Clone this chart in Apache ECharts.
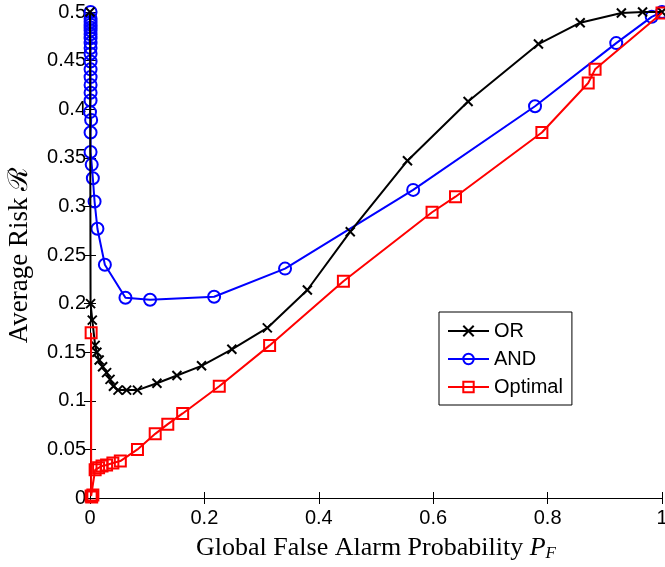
<!DOCTYPE html>
<html>
<head>
<meta charset="utf-8">
<script src="https://cdn.jsdelivr.net/npm/echarts@6/dist/echarts.min.js"></script>
<style>
  html, body { margin: 0; padding: 0; background: #fff; }
  #chart { width: 665px; height: 567px; }
</style>
</head>
<body>
<div id="chart"></div>
<script>
// Global false alarm probability (x) and average risk (y) for each fusion rule
const orPF = [0.000, 0.001, 0.004, 0.009, 0.012, 0.016, 0.022, 0.029, 0.035, 0.041, 0.049, 0.064, 0.083,
  0.117, 0.152, 0.195, 0.248, 0.310, 0.380, 0.455, 0.555, 0.661, 0.784, 0.857, 0.929, 0.966, 1.000];
const orRisk = [0.500, 0.200, 0.183, 0.157, 0.150, 0.142, 0.135, 0.129, 0.122, 0.115, 0.111, 0.111, 0.111,
  0.118, 0.126, 0.136, 0.153, 0.175, 0.214, 0.274, 0.347, 0.408, 0.467, 0.489, 0.499, 0.500, 0.500];

const andPF = [0.001, 0.001, 0.001, 0.001, 0.001, 0.001, 0.001, 0.001, 0.001, 0.001, 0.001, 0.001, 0.001,
  0.001, 0.001, 0.001, 0.001, 0.000, 0.002, 0.001, 0.001, 0.003, 0.005, 0.008, 0.013, 0.026, 0.062,
  0.105, 0.217, 0.341, 0.565, 0.778, 0.920, 0.982, 1.000];
const andRisk = [0.500, 0.493, 0.490, 0.487, 0.484, 0.481, 0.477, 0.473, 0.468, 0.463, 0.457, 0.449, 0.441,
  0.433, 0.425, 0.417, 0.409, 0.397, 0.389, 0.376, 0.356, 0.343, 0.329, 0.305, 0.277, 0.240, 0.206,
  0.204, 0.207, 0.236, 0.317, 0.403, 0.468, 0.495, 0.500];

const optPF = [0.002, 0.002, 0.003, 0.005, 0.009, 0.015, 0.021, 0.029, 0.040, 0.053, 0.083, 0.114, 0.136,
  0.162, 0.226, 0.314, 0.443, 0.598, 0.639, 0.790, 0.871, 0.883, 1.000];
const optRisk = [0.170, 0.002, 0.001, 0.003, 0.029, 0.031, 0.033, 0.034, 0.036, 0.038, 0.050, 0.066, 0.076,
  0.087, 0.115, 0.157, 0.223, 0.294, 0.310, 0.376, 0.427, 0.441, 0.499];

const xTicks = { min: 0, max: 1, interval: 0.2 };
const yTicks = { min: 0, max: 0.5, interval: 0.05 };

const pairs = (xs, ys) => xs.map((x, i) => [x, ys[i]]);

const sansFont = "'Liberation Sans', Arial, sans-serif";
const serifFont = "'Liberation Serif', 'DejaVu Serif', serif";

const tickLabelFmt = v => {
  const r = Math.round(v * 100) / 100;
  return r === 0 ? '0' : r === 1 ? '1' : String(r);
};

const baseAxis = {
  axisLine: { show: true, lineStyle: { color: '#000', width: 1 } },
  axisTick: { show: true, inside: true, length: 6, lineStyle: { color: '#000', width: 1 } },
  splitLine: { show: false },
};

const chart = echarts.init(document.getElementById('chart'), null, { renderer: 'canvas' });

chart.setOption({
  backgroundColor: '#fff',
  animation: false,
  grid: { left: 90, right: 3, top: 12, bottom: 69, containLabel: false, outerBoundsMode: 'none' },
  xAxis: [
    Object.assign({}, baseAxis, {
      type: 'value', position: 'bottom',
      min: xTicks.min, max: xTicks.max, interval: xTicks.interval,
      axisLabel: { color: '#000', fontFamily: sansFont, fontSize: 20, margin: 10, formatter: tickLabelFmt },
      name: '{n|Global False Alarm Probability }{i|P}{s|F}',
      nameLocation: 'middle', nameGap: 36,
      nameTextStyle: {
        color: '#000',
        rich: {
          n: { fontFamily: serifFont, fontSize: 26, color: '#000' },
          i: { fontFamily: serifFont, fontSize: 26, fontStyle: 'italic', color: '#000' },
          s: { fontFamily: serifFont, fontSize: 17, fontStyle: 'italic', color: '#000', padding: [11, 0, 0, 0] }
        }
      }
    }),
    Object.assign({}, baseAxis, {
      type: 'value', position: 'top',
      min: xTicks.min, max: xTicks.max, interval: xTicks.interval,
      axisLabel: { show: false }
    })
  ],
  yAxis: [
    Object.assign({}, baseAxis, {
      type: 'value', position: 'left',
      min: yTicks.min, max: yTicks.max, interval: yTicks.interval,
      axisLabel: { color: '#000', fontFamily: sansFont, fontSize: 20, margin: 4, formatter: tickLabelFmt },
      name: 'Average Risk \u211B',
      nameLocation: 'middle', nameRotate: 90, nameGap: 57,
      nameTextStyle: { color: '#000', fontFamily: serifFont, fontSize: 27 }
    }),
    Object.assign({}, baseAxis, {
      type: 'value', position: 'right',
      min: yTicks.min, max: yTicks.max, interval: yTicks.interval,
      axisLabel: { show: false }
    })
  ],
  legend: {
    orient: 'vertical',
    left: 439, top: 312,
    padding: [9, 9, 8, 8],
    itemGap: 8,
    itemWidth: 41, itemHeight: 13,
    backgroundColor: '#fff',
    borderColor: '#000', borderWidth: 1, borderRadius: 0,
    textStyle: { color: '#000', fontFamily: sansFont, fontSize: 20 },
    data: ['OR', 'AND', 'Optimal']
  },
  series: [
    {
      name: 'OR', type: 'line', clip: false,
      data: pairs(orPF, orRisk),
      symbol: 'path://M0,0L10,10M10,0L0,10',
      symbolSize: 9,
      lineStyle: { color: '#000', width: 2 },
      itemStyle: { color: '#000', borderColor: '#000', borderWidth: 2 },
      z: 3
    },
    {
      name: 'AND', type: 'line', clip: false,
      data: pairs(andPF, andRisk),
      symbol: 'circle', symbolSize: 12,
      lineStyle: { color: '#0000ff', width: 2 },
      itemStyle: { color: 'rgba(255,255,255,0)', borderColor: '#0000ff', borderWidth: 2 },
      z: 2
    },
    {
      name: 'Optimal', type: 'line', clip: false,
      data: pairs(optPF, optRisk),
      symbol: 'rect', symbolSize: 11,
      lineStyle: { color: '#ff0000', width: 2 },
      itemStyle: { color: 'rgba(255,255,255,0)', borderColor: '#ff0000', borderWidth: 2 },
      z: 4
    }
  ]
});
</script>
</body>
</html>
